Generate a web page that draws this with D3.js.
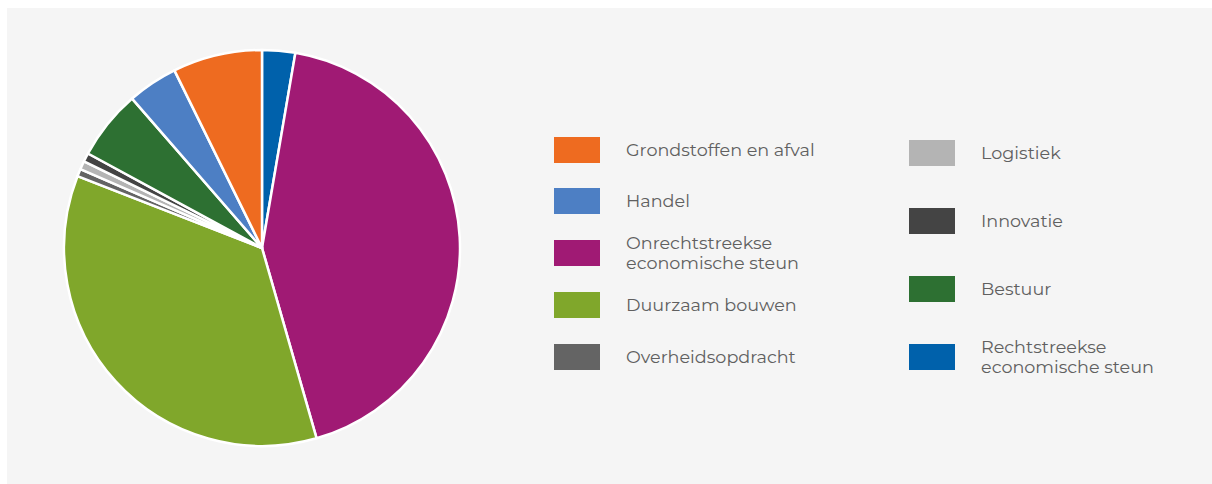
<!DOCTYPE html>
<html><head><meta charset="utf-8">
<script src="https://cdn.jsdelivr.net/npm/d3@7"></script>
<style>
html,body{margin:0;padding:0;background:#fff;}
svg{display:block;}
</style></head>
<body>
<svg id="chart" width="1212" height="484"></svg>
<script>
// Slices in drawing order (clockwise from 12 o'clock)
const sliceNames = ["Rechtstreekse economische steun","Onrechtstreekse economische steun","Duurzaam bouwen","Overheidsopdracht","Logistiek","Innovatie","Bestuur","Handel","Grondstoffen en afval"];
const sliceValues = [2.7, 42.9, 35.4, 0.6, 0.7, 0.7, 5.7, 4.1, 7.3];
const sliceColors = ["#0061ab","#a01a74","#80a72b","#646464","#b4b4b4","#444444","#2d7032","#4d7fc4","#ee6b20"];

// Legend columns
const legendCol1 = ["Grondstoffen en afval","Handel","Onrechtstreekse economische steun","Duurzaam bouwen","Overheidsopdracht"];
const legendCol2 = ["Logistiek","Innovatie","Bestuur","Rechtstreekse economische steun"];
const legendLines = {
  "Onrechtstreekse economische steun": ["Onrechtstreekse","economische steun"],
  "Rechtstreekse economische steun": ["Rechtstreekse","economische steun"]
};

const svg = d3.select("#chart");
svg.append("rect").attr("x",7).attr("y",8).attr("width",1205).attr("height",476).attr("fill","#f5f5f5");

const color = d3.scaleOrdinal().domain(sliceNames).range(sliceColors);
const data = sliceNames.map((n,i)=>({name:n,value:sliceValues[i]}));
const pie = d3.pie().sort(null).value(d=>d.value);
const arc = d3.arc().innerRadius(0).outerRadius(198);

const g = svg.append("g").attr("transform","translate(262,248)");
g.selectAll("path").data(pie(data)).join("path")
  .attr("d",arc)
  .attr("fill",d=>color(d.data.name))
  .attr("stroke","#ffffff")
  .attr("stroke-width",2.5)
  .attr("stroke-linejoin","round");

const font = "Montserrat, 'DejaVu Sans', sans-serif";
function drawLegend(items, x0, ys){
  const lg = svg.append("g");
  items.forEach((name,i)=>{
    const cy = ys[i];
    lg.append("rect").attr("x",x0).attr("y",cy-13).attr("width",46).attr("height",26).attr("fill",color(name));
    const lines = legendLines[name] || [name];
    const lh = 20;
    const t = lg.append("text").attr("x",x0+72).attr("font-family",font).attr("font-size",17.6).attr("fill","#606060");
    lines.forEach((ln,j)=>{
      t.append("tspan").attr("x",x0+72).attr("y",cy + (j-(lines.length-1)/2)*lh).attr("dy","0.35em").text(ln);
    });
  });
}
drawLegend(legendCol1, 554, [150,201,253,305,357]);
drawLegend(legendCol2, 909, [153,221,289,357]);
</script>
</body></html>
